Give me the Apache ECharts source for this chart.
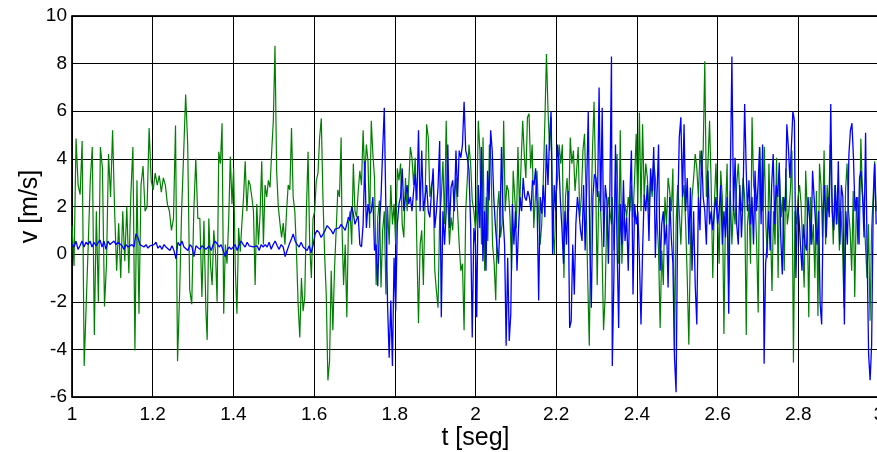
<!DOCTYPE html>
<html>
<head>
<meta charset="utf-8">
<script src="https://cdn.jsdelivr.net/npm/echarts@6/dist/echarts.min.js"></script>
<style>html,body{margin:0;padding:0;background:#fff;}#c{width:877px;height:452px;}</style>
</head>
<body>
<div id="c"></div>
<script>
// Axis ticks
const xTicks = [1, 1.2, 1.4, 1.6, 1.8, 2, 2.2, 2.4, 2.6, 2.8, 3];
const yTicks = [-6, -4, -2, 0, 2, 4, 6, 8, 10];

// Time span [start, end] covered by each block of samples (seconds)
const blockSpans = [[1.000, 1.332], [1.335, 1.667], [1.669, 2.000], [2.003, 2.337], [2.339, 2.671], [2.674, 2.993]];

// Blue series (v, m/s), block by block
const blue1 = [0.4,0.3,0.55,0.2,0.35,0.55,0.3,0.5,0.4,0.55,0.3,0.5,0.35,0.4,0.6,0.3,0.55,0.2,0.55,0.4,0.35,0.55,0.4,0.5,0.55,0.35,0.2,0.4,0.3,0.35,0.4,0.3,0.85,0.7,0.4,0.35,0.3,0.4,0.25,0.35,0.3,0.4,0.5,0.25,0.35,0.2,0.4,0.3,0.35,0.15,0.35,0.15,-0.2,0.5,0.35,0.55,0.3,0.35,0.15,0.4,0.3,-0.1,0.35,0.4,0.2,0.35,0.4,0.2];
const blue2 = [0.2,0.35,0.15,0.4,0.55,0.5,0.3,0.4,0.15,-0.1,0.15,0.3,0.2,0.3,0.4,0.15,0.4,0.55,0.4,0.3,0.5,0.35,0.4,0.3,0.25,0.35,0.15,0.4,0.3,0.4,0.3,0.5,0.2,0.4,0.55,0.35,0.2,0.4,0.3,-0.1,0.15,0.4,0.6,0.85,0.55,0.4,0.3,0.5,0.3,0.35,0.15,0.35,0.05,0.4,0.85,1.0,0.9,0.7,0.75,1.0,1.2,1.25,1.0,0.85,1.05,1.0,1.1,1.25];
const blue3 = [1.25,1.1,1.0,1.25,1.55,1.4,2.0,1.7,1.25,1.45,1.6,0.4,0.3,1.25,3.9,1.1,2.1,1.7,1.8,2.4,0.15,0.4,-1.35,1.25,2.4,4.35,6.15,1.8,-2.1,-4.35,-1.95,-4.7,-0.15,-2.4,1.25,2.1,2.4,3.6,1.8,2.4,2.9,2.1,2.4,1.8,2.65,3.35,2.25,5.2,1.8,4.35,1.8,2.4,2.9,1.8,1.55,2.65,3.6,1.1,1.8,2.8,4.75,-2.65,1.8,0.4,1.8,4.6,1.1,2.8,3.1,1.8,4.35,2.4,4.35,4.05,4.6,6.4,4.35,4.05,3.5,1.25,-3.5,1.1,0.4];
const blue4 = [-2.65,2.9,1.1,4.5,-0.3,1.8,-0.7,3.5,2.25,5.2,4.35,2.4,1.25,0.4,-0.4,1.25,4.5,1.55,0.4,-3.85,-0.15,-3.65,-2.5,2.1,0.4,1.8,-0.7,1.1,2.4,1.8,3.2,2.4,2.25,2.65,2.4,1.8,3.1,2.9,3.6,2.1,-1.95,2.4,1.7,2.9,1.55,4.6,2.9,4.9,6.0,0.0,2.9,1.8,4.6,3.9,2.25,1.1,-0.4,1.8,0.4,2.65,-3.1,-2.8,0.4,-1.7,1.25,2.4,1.8,1.0,0.55,2.9,0.15,2.9,6.0,0.4,-2.25,2.4,3.35,3.2,2.4,7.0,1.8,6.15,0.3,2.9,2.25,-0.4,2.8,8.3];
const blue5 = [-4.7,-1.0,4.6,0.4,-3.1,2.1,0.4,3.1,0.55,1.55,-0.7,2.4,4.35,-1.7,2.1,1.25,1.8,-0.15,-2.95,0.15,2.5,1.8,2.9,0.55,3.6,2.65,4.5,-0.15,2.4,4.6,-0.7,1.25,1.8,0.4,1.25,-1.4,2.4,0.7,-0.4,-4.35,-5.8,1.55,4.9,5.75,2.4,5.45,1.8,3.2,0.4,2.8,-0.7,1.8,-1.3,-2.95,2.4,1.0,4.35,2.4,1.8,0.4,3.5,1.25,1.8,1.0,1.8,2.4,1.25,1.8,2.9,0.4,1.8,0.7,2.4,-2.5,3.2,8.3,1.8,4.05,1.25,0.4,2.9,0.7,2.4,6.3,3.5];
const blue6 = [1.8,3.1,1.25,2.4,0.4,3.5,1.8,2.9,4.5,1.25,4.6,-4.6,-0.4,0.4,1.8,0.15,2.9,4.2,1.25,2.9,2.4,3.85,0.7,-0.85,2.4,1.8,5.45,4.5,3.2,4.5,6.0,5.6,-1.0,2.0,1.55,0.4,-0.7,1.25,0.4,0.15,2.4,1.55,0.4,3.5,2.4,1.25,0.4,1.8,-2.1,-2.95,1.8,2.9,0.7,2.4,1.55,6.3,1.8,1.0,2.9,1.25,3.9,0.4,2.9,2.4,-2.95,1.8,0.4,4.2,5.2,5.5,4.05,1.8,2.4,0.4,3.2,3.5,2.4,0.7,5.1,0.15,-4.2,-5.3,-3.8,1.8,3.8,1.25];

// Green series (v, m/s), block by block
const green1 = [1.2,-0.5,4.85,2.9,2.5,4.75,-4.7,-2.1,0.4,3.1,4.5,-3.4,1.8,-2.0,4.5,3.6,-2.2,-0.4,4.2,2.4,5.2,1.8,-0.7,1.3,-1.0,1.8,-0.3,2.0,-0.8,2.5,4.5,-4.05,3.1,-2.5,2.9,3.7,1.8,2.0,5.3,3.1,2.7,3.4,2.9,3.3,2.6,3.2,2.9,2.1,1.8,1.0,1.5,5.4,-4.5,-1.7,1.8,4.2,6.7,4.6,-1.5,-2.1,1.8,4.0,1.5,1.5,-1.8,1.4,-2.45];
const green2 = [-3.6,1.5,-0.4,-1.3,1.0,0.1,-2.0,4.3,3.8,5.5,-2.5,0.4,-0.4,1.4,4.1,2.1,3.6,-0.6,-2.5,1.1,0.1,1.3,2.4,3.9,1.8,3.1,2.9,2.4,1.8,-1.3,2.1,0.4,1.7,3.9,0.4,2.9,2.4,3.1,2.8,4.3,5.6,8.75,3.5,2.0,1.3,0.7,1.3,0.4,1.8,2.9,2.7,5.3,2.4,1.8,0.1,-2.1,-3.5,-1.0,-2.4,-1.8,1.8,4.3,0.4,-1.0,1.5,1.8,3.1,3.4,4.9,5.7,2.4,0.0,-1.7,-5.3,-4.5,-0.7,-3.2,-0.6,1.0,2.7,2.4,4.9];
const green3 = [1.25,-1.3,0.4,-2.65,1.25,1.8,0.4,3.8,1.8,1.55,2.65,3.5,2.9,5.2,3.2,4.6,3.9,1.1,5.6,4.2,3.2,-1.3,1.55,2.25,-1.4,1.0,1.8,-1.7,2.0,0.4,2.9,1.25,2.1,0.4,3.6,3.1,3.8,1.25,0.7,3.2,1.8,2.9,4.5,4.05,2.9,4.05,0.3,-2.9,0.4,1.0,-1.3,2.1,5.45,4.9,2.4,2.9,3.2,-0.7,-1.55,-2.25,1.55,2.4,3.9,1.25,5.6,2.4,0.4,1.55,1.0,2.4,3.2,1.8,0.4,-0.7,-0.4,-3.2,1.8,3.2,4.6,3.8,2.25,1.8,1.0];
const green4 = [1.8,5.6,4.35,0.4,4.9,-0.7,2.4,0.55,4.6,3.9,0.4,-0.4,-1.95,1.8,2.65,0.7,1.25,5.6,1.8,2.9,2.65,1.55,-0.7,3.5,2.4,1.1,4.5,1.8,3.8,5.6,4.2,3.2,5.75,5.9,3.6,4.6,1.1,2.4,3.5,1.8,0.4,1.25,3.1,5.6,8.4,6.0,4.35,5.75,1.1,0.0,2.4,3.2,4.6,3.8,4.6,-1.0,2.4,3.2,1.8,4.9,3.8,4.35,2.65,3.5,4.5,1.55,2.4,4.35,5.05,2.4,-1.0,-3.85,1.25,4.35,6.4,3.2,-1.3,2.65,2.1,0.4,-3.2,-1.8,1.55,2.4,1.8,1.25];
const green5 = [2.4,0.15,3.2,4.2,-0.4,5.2,-0.4,1.25,2.1,1.55,2.4,1.8,2.9,1.55,3.2,5.05,2.1,5.95,1.8,5.45,2.4,3.8,3.2,1.8,3.1,2.4,3.9,3.2,1.55,0.15,-3.1,0.15,-1.3,2.4,1.25,3.2,2.65,1.8,3.6,-4.1,1.25,2.9,1.8,0.4,2.4,2.9,1.25,-1.0,-3.8,0.4,2.4,3.2,4.2,3.6,2.4,4.35,3.5,4.35,8.1,2.4,3.8,5.6,2.9,-1.0,2.1,3.8,1.8,-0.4,3.5,2.4,-3.35,1.8,3.8,-1.3,2.65,0.4,2.1,1.25,2.9,3.8,2.4,1.8,3.2,2.4,-3.4];
const green6 = [1.25,2.1,-0.4,5.75,2.9,2.4,0.4,-2.45,4.5,2.4,1.8,4.5,1.25,-0.15,3.8,1.25,-1.55,1.8,0.4,4.05,-1.0,3.2,1.55,2.4,-0.7,3.6,1.25,1.8,2.65,4.35,-4.55,1.8,1.25,2.4,2.9,2.1,0.4,-1.4,3.5,1.8,-2.65,2.4,0.4,1.25,-1.0,2.65,-2.6,3.8,2.9,0.7,4.35,0.4,2.9,1.8,4.6,2.4,0.4,2.9,1.25,2.4,0.15,1.8,0.4,-2.25,2.65,3.8,1.8,1.0,-0.7,2.65,-1.8,1.8,2.4,0.4,4.85,2.65,1.8,0.4,-1.0,1.25,-2.8,1.0,2.4,3.9,1.8];

function buildSeries(blocks) {
  const out = [];
  blocks.forEach(function (vals, b) {
    const a = blockSpans[b][0], e = blockSpans[b][1];
    const n = vals.length;
    vals.forEach(function (v, i) {
      out.push([a + (e - a) * (n > 1 ? i / (n - 1) : 0), v]);
    });
  });
  return out;
}

const blueData = buildSeries([blue1, blue2, blue3, blue4, blue5, blue6]);
const greenData = buildSeries([green1, green2, green3, green4, green5, green6]);

const FONT = 'Arial, "Liberation Sans", Helvetica, sans-serif';
const chart = echarts.init(document.getElementById('c'), null, {renderer: 'canvas'});

const xBase = {
  type: 'value', min: xTicks[0], max: xTicks[xTicks.length - 1], interval: 0.2
};
const yBase = {
  type: 'value', min: yTicks[0], max: yTicks[yTicks.length - 1], interval: 2
};

chart.setOption({
  animation: false,
  backgroundColor: '#ffffff',
  grid: {
    left: 72, top: 16, width: 807, height: 381,
    containLabel: false, outerBoundsMode: 'none',
    show: true, borderColor: '#000', borderWidth: 1, backgroundColor: 'transparent'
  },
  xAxis: [
    Object.assign({}, xBase, {
      position: 'bottom',
      name: 't [seg]', nameLocation: 'middle', nameGap: 29, nameMoveOverlap: false,
      nameTextStyle: {fontFamily: FONT, fontSize: 25, color: '#000'},
      axisLine: {show: true, onZero: false, lineStyle: {color: '#000', width: 1.5}},
      axisTick: {show: true, inside: true, length: 4, lineStyle: {color: '#000'}},
      axisLabel: {fontFamily: FONT, fontSize: 19, color: '#000', margin: 8,
        formatter: function (v) { return String(Math.round(v * 10) / 10); }},
      splitLine: {show: true, lineStyle: {color: '#000', width: 1}}
    }),
    Object.assign({}, xBase, {
      position: 'top',
      axisLine: {show: true, onZero: false, lineStyle: {color: '#000', width: 1.5}},
      axisTick: {show: true, inside: true, length: 4, lineStyle: {color: '#000'}},
      axisLabel: {show: false},
      splitLine: {show: false}
    })
  ],
  yAxis: [
    Object.assign({}, yBase, {
      position: 'left',
      name: 'v [m/s]', nameLocation: 'middle', nameGap: 29, nameRotate: 90, nameMoveOverlap: false,
      nameTextStyle: {fontFamily: FONT, fontSize: 25, color: '#000'},
      axisLine: {show: true, onZero: false, lineStyle: {color: '#000', width: 1.5}},
      axisTick: {show: true, inside: true, length: 4, lineStyle: {color: '#000'}},
      axisLabel: {fontFamily: FONT, fontSize: 19, color: '#000', margin: 5},
      splitLine: {show: true, lineStyle: {color: '#000', width: 1}}
    }),
    Object.assign({}, yBase, {
      position: 'right',
      axisLine: {show: true, onZero: false, lineStyle: {color: '#000', width: 1.5}},
      axisTick: {show: true, inside: true, length: 4, lineStyle: {color: '#000'}},
      axisLabel: {show: false},
      splitLine: {show: false}
    })
  ],
  series: [
    {
      type: 'line', name: 'green', data: greenData, xAxisIndex: 0, yAxisIndex: 0,
      showSymbol: false, symbol: 'none', smooth: false,
      lineStyle: {color: '#008000', width: 1.2}, z: 3
    },
    {
      type: 'line', name: 'blue', data: blueData, xAxisIndex: 0, yAxisIndex: 0,
      showSymbol: false, symbol: 'none', smooth: false,
      lineStyle: {color: '#0000ff', width: 1.3}, z: 4
    }
  ]
});
</script>
</body>
</html>
